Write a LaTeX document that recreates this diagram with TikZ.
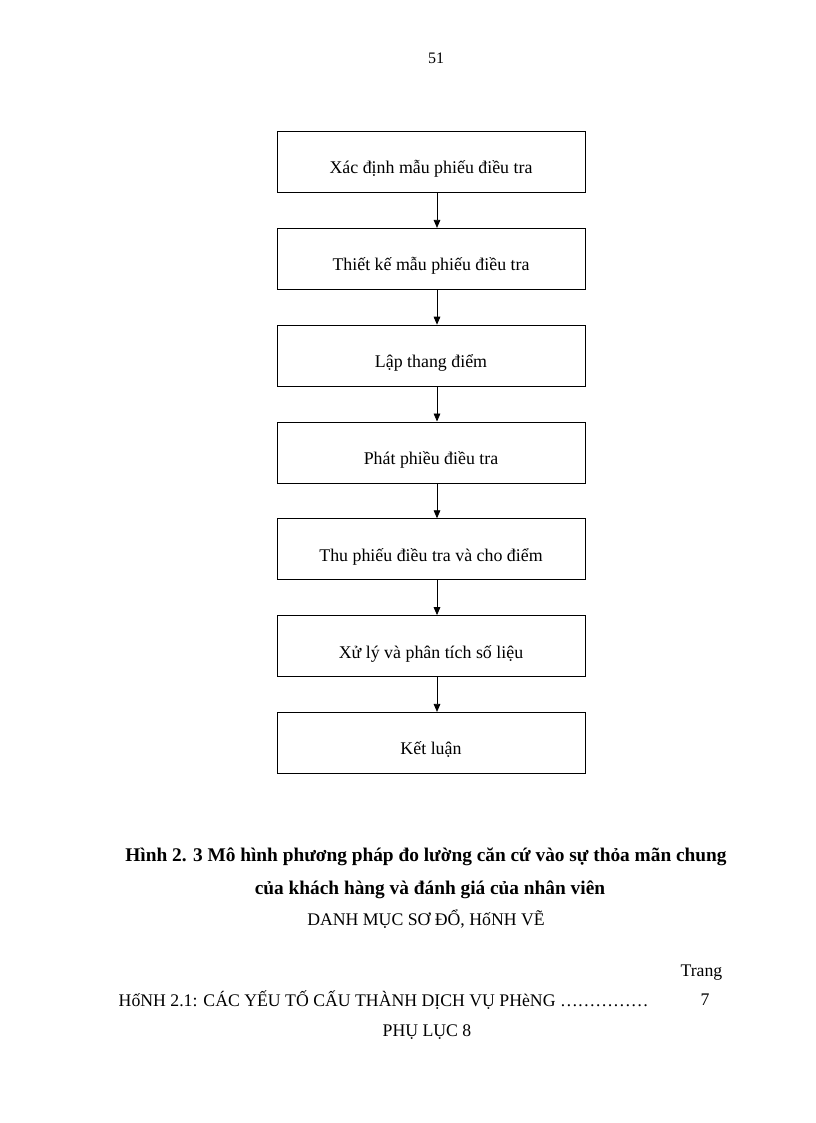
\documentclass[tikz,border=0pt]{standalone}
\usepackage{fontspec}
\setmainfont{Liberation Serif}
\usetikzlibrary{positioning,arrows.meta}
\tikzset{
  box/.style={draw, line width=0.6pt, minimum width=231pt, minimum height=45.75pt,
    inner sep=0pt, text height=18pt, text depth=0pt, font=\fontsize{13.4}{15}\selectfont},
  flow/.style={line width=0.6pt, -{Triangle[length=6pt,width=5pt]}},
  captext/.style={font=\fontsize{14.5}{16}\selectfont\bfseries},
  toc/.style={font=\fontsize{13.3}{15}\selectfont}
}
\begin{document}
\begin{tikzpicture}[x=0.75pt,y=-0.75pt,node distance=26.25pt]
\useasboundingbox (0,0) rectangle (816,1123);
\node (pg) at (436,58) {\fontsize{12}{14}\selectfont 51};

% the steps
\node[box] (s1) at (431,162) {Xác định mẫu phiếu điều tra};
\node[box, below=of s1] (s2) {Thiết kế mẫu phiếu điều tra};
\node[box, below=of s2] (s3) {Lập thang điểm};
\node[box, below=of s3] (s4) {Phát phiều điều tra};
\node[box, below=of s4] (s5) {Thu phiếu điều tra và cho điểm};
\node[box, below=of s5] (s6) {Xử lý và phân tích số liệu};
\node[box, below=of s6] (s7) {Kết luận};
\foreach \a/\b in {s1/s2,s2/s3,s3/s4,s4/s5,s5/s6,s6/s7}
  \draw[flow] ([xshift=4.5pt]\a.south) -- ([xshift=4.5pt]\b.north);

% caption and list
\node[captext] (c1) at (426,857) {Hình 2. 3 Mô hình phương pháp đo lường căn cứ vào sự thỏa mãn chung};
\node[captext] (c2) at (430,890) {của khách hàng và đánh giá của nhân viên};
\node[toc] (dm) at (426,919) {DANH MỤC SƠ ĐỔ, HốNH VẼ};
\node[toc, anchor=east] (tr) at (727,973) {Trang};
\node[toc, anchor=west] (h1) at (114,1000) {HốNH 2.1: CÁC YẾU TỐ CẤU THÀNH DỊCH VỤ PHèNG ……………};
\node[toc] (p7) at (705,1000) {7};
\node[toc] (pl) at (427,1032) {PHỤ LỤC 8};
\end{tikzpicture}
\end{document}
